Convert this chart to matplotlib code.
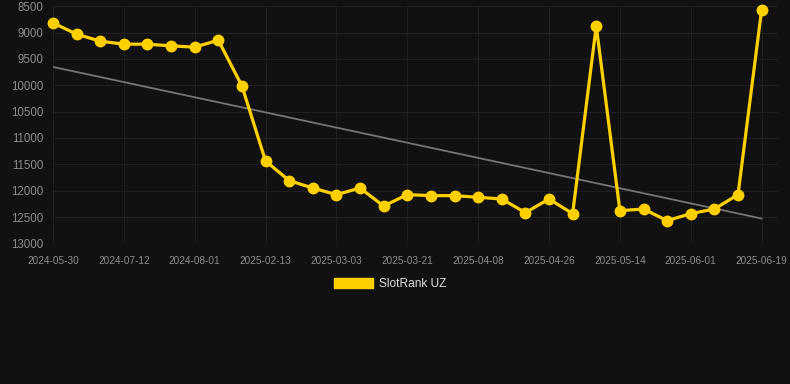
import numpy as np
import matplotlib.pyplot as plt
from matplotlib.patches import Patch

# rank per snapshot (lower is better, axis is inverted)
ranks = [8817, 9031, 9164, 9221, 9221, 9253, 9278, 9145, 10012, 11436,
         11808, 11949, 12074, 11949, 12290, 12074, 12093, 12093, 12125, 12157,
         12416, 12157, 12435, 8874, 12378, 12347, 12567, 12435, 12347, 12074,
         8570]
date_labels = ["2024-05-30", "2024-07-12", "2024-08-01", "2025-02-13",
               "2025-03-03", "2025-03-21", "2025-04-08", "2025-04-26",
               "2025-05-14", "2025-06-01", "2025-06-19"]
label_step = 3
series_name = "SlotRank UZ"

BG = "#111111"
YELLOW = "#FFD000"


def main():
    plt.rcParams['font.family'] = ['Liberation Sans', 'DejaVu Sans']
    x = np.arange(len(ranks))

    fig = plt.figure(figsize=(7.9, 3.84), dpi=100, facecolor=BG)
    ax = fig.add_axes([0.067, 0.366, 0.918, 0.618])
    ax.set_facecolor(BG)

    # linear trend over the series
    k, b = np.polyfit(x, ranks, 1)
    ax.plot(x, k * x + b, color="#757575", lw=1.3, zorder=2)

    ax.plot(x, ranks, color=YELLOW, lw=2.3, marker="o", ms=7.5,
            zorder=3, clip_on=False)

    ax.set_ylim(13000, 8500)
    ax.set_yticks(np.arange(8500, 13001, 500))
    ax.set_xlim(0, len(ranks) - 1 + 0.7)
    ax.set_xticks(x[::label_step])
    ax.set_xticklabels(date_labels)

    ax.grid(True, color="#202020", lw=0.8)
    ax.set_axisbelow(True)
    for s in ax.spines.values():
        s.set_visible(False)
    ax.tick_params(axis='y', length=0, pad=7, labelsize=8.3, labelcolor="#8c8c8c")
    ax.tick_params(axis='x', length=0, pad=9, labelsize=7.2, labelcolor="#8c8c8c")

    handle = Patch(facecolor=YELLOW, edgecolor=YELLOW)
    fig.legend([handle], [series_name], loc="center",
               bbox_to_anchor=(390 / 790, 1 - 284 / 384),
               frameon=False, fontsize=8.6, labelcolor="#dddddd",
               handlelength=3.3, handleheight=1.0, handletextpad=0.5)

    fig.savefig("out.png", dpi=100, facecolor=BG)


if __name__ == "__main__":
    main()
